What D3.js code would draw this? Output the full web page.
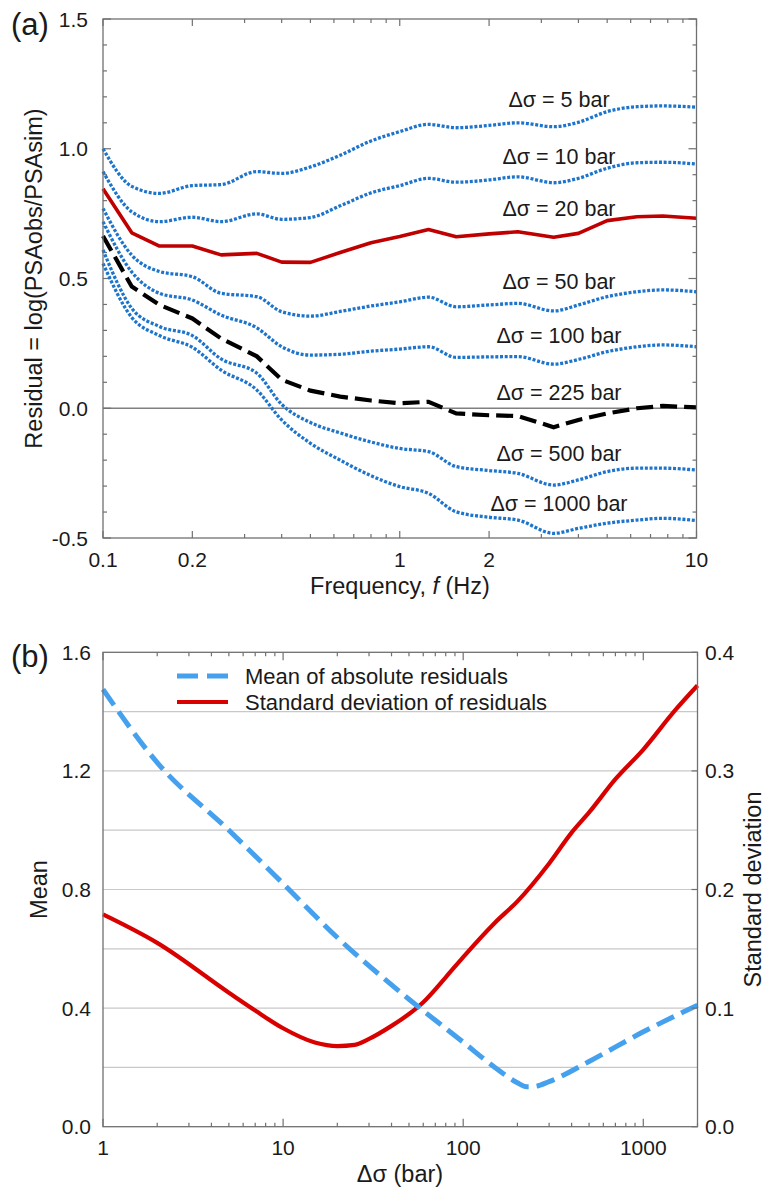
<!DOCTYPE html>
<html>
<head>
<meta charset="utf-8">
<script src="https://cdn.jsdelivr.net/npm/d3@7"></script>
<style>
  html, body { margin: 0; padding: 0; background: #fff; }
  svg { display: block; }
  text { font-family: "Liberation Sans", Arial, sans-serif; fill: #1a1a1a; }
</style>
</head>
<body>
<svg id="chart" width="768" height="1189"></svg>
<script>
// ---------------- Panel (a) data ----------------
const freqHz = [0.1, 0.125, 0.155, 0.2, 0.25, 0.33, 0.4, 0.5, 0.63, 0.8, 1.0, 1.25, 1.55, 2.0, 2.5, 3.3, 4.0, 5.0, 6.3, 7.7, 10];
const res5    = [1.0, 0.855, 0.828, 0.858, 0.862, 0.912, 0.905, 0.93, 0.975, 1.03, 1.066, 1.094, 1.081, 1.09, 1.1, 1.085, 1.102, 1.143, 1.162, 1.165, 1.16];
const res10   = [0.912, 0.757, 0.719, 0.736, 0.719, 0.749, 0.728, 0.735, 0.78, 0.83, 0.858, 0.886, 0.871, 0.88, 0.892, 0.869, 0.886, 0.925, 0.946, 0.948, 0.941];
const res20   = [0.846, 0.676, 0.625, 0.625, 0.591, 0.597, 0.563, 0.562, 0.60, 0.638, 0.662, 0.689, 0.661, 0.672, 0.68, 0.659, 0.674, 0.723, 0.738, 0.741, 0.732];
const res50   = [0.770, 0.59, 0.527, 0.507, 0.443, 0.43, 0.372, 0.355, 0.373, 0.394, 0.41, 0.428, 0.391, 0.398, 0.404, 0.375, 0.398, 0.430, 0.449, 0.456, 0.449];
const res100  = [0.719, 0.525, 0.443, 0.417, 0.359, 0.31, 0.237, 0.205, 0.208, 0.22, 0.228, 0.237, 0.196, 0.198, 0.199, 0.170, 0.188, 0.218, 0.237, 0.244, 0.237];
const res225  = [0.664, 0.469, 0.398, 0.346, 0.269, 0.20, 0.11, 0.068, 0.045, 0.03, 0.019, 0.025, -0.02, -0.027, -0.03, -0.073, -0.045, -0.02, 0.0, 0.009, 0.003];
const res500  = [0.610, 0.385, 0.315, 0.28, 0.19, 0.135, 0.015, -0.055, -0.095, -0.13, -0.155, -0.167, -0.225, -0.24, -0.251, -0.296, -0.276, -0.244, -0.231, -0.231, -0.238];
const res1000 = [0.558, 0.35, 0.28, 0.235, 0.147, 0.07, -0.045, -0.135, -0.2, -0.26, -0.302, -0.328, -0.399, -0.42, -0.431, -0.482, -0.463, -0.443, -0.431, -0.424, -0.433];
const seriesNames = ["Δσ = 5 bar", "Δσ = 10 bar", "Δσ = 20 bar", "Δσ = 50 bar", "Δσ = 100 bar", "Δσ = 225 bar", "Δσ = 500 bar", "Δσ = 1000 bar"];
const seriesLabelY = [1.16, 0.94, 0.74, 0.46, 0.25, 0.03, -0.205, -0.395];
const freqTickMajor = [0.1, 0.2, 1, 2, 10];
const freqTickLabels = ["0.1", "0.2", "1", "2", "10"];
const freqTickMinor = [0.3, 0.4, 0.5, 0.6, 0.7, 0.8, 0.9, 3, 4, 5, 6, 7, 8, 9];
const resTickMajor = [-0.5, 0, 0.5, 1.0, 1.5];
const resTickLabels = ["-0.5", "0.0", "0.5", "1.0", "1.5"];
const resTickMinor = [-0.4, -0.3, -0.2, -0.1, 0.1, 0.2, 0.3, 0.4, 0.6, 0.7, 0.8, 0.9, 1.1, 1.2, 1.3, 1.4];

// ---------------- Panel (b) data ----------------
const meanDs   = [1, 2, 5, 10, 20, 50, 100, 150, 200, 225, 250, 300, 500, 1000, 2000];
const meanAbs  = [1.475, 1.228, 1.0, 0.82, 0.638, 0.43, 0.285, 0.2, 0.148, 0.135, 0.136, 0.152, 0.22, 0.32, 0.41];
const stdDs    = [1, 2, 5, 7, 10, 15, 20, 25, 30, 40, 50, 60, 80, 100, 150, 200, 300, 400, 500, 700, 1000, 1500, 2000];
const stdRes   = [0.179, 0.155, 0.113, 0.098, 0.083, 0.071, 0.068, 0.069, 0.074, 0.085, 0.095, 0.105, 0.126, 0.143, 0.172, 0.19, 0.222, 0.248, 0.265, 0.293, 0.318, 0.351, 0.372];
const dsTickMajor = [1, 10, 100, 1000];
const dsTickLabels = ["1", "10", "100", "1000"];
const dsTickMinor = [2,3,4,5,6,7,8,9,20,30,40,50,60,70,80,90,200,300,400,500,600,700,800,900,2000];
const meanTicks = [0, 0.4, 0.8, 1.2, 1.6];
const meanTickLabels = ["0.0", "0.4", "0.8", "1.2", "1.6"];
const meanGrid = [0.2, 0.4, 0.6, 0.8, 1.0, 1.2, 1.4];
const stdTicks = [0, 0.1, 0.2, 0.3, 0.4];
const stdTickLabels = ["0.0", "0.1", "0.2", "0.3", "0.4"];
const legendLabels = ["Mean of absolute residuals", "Standard deviation of residuals"];

// ---------------- Drawing ----------------
const svg = d3.select("#chart");
const frameColor = "#707070";
const blueDot = "#1c74cc";

// ===== Panel (a) =====
const xA = d3.scaleLog().domain([0.1, 10]).range([103, 696.5]);
const yA = d3.scaleLinear().domain([-0.5, 1.5]).range([538, 19]);
const gA = svg.append("g");

gA.append("line").attr("x1", xA(0.1)).attr("x2", xA(10)).attr("y1", yA(0)).attr("y2", yA(0))
  .attr("stroke", "#808080").attr("stroke-width", 1.3);

function ticksX(g, x, y0, y1, vals, len) {
  g.selectAll(null).data(vals).enter().append("line")
    .attr("x1", d => x(d)).attr("x2", d => x(d)).attr("y1", y0).attr("y2", y0 - len)
    .attr("stroke", frameColor).attr("stroke-width", 1.2);
  g.selectAll(null).data(vals).enter().append("line")
    .attr("x1", d => x(d)).attr("x2", d => x(d)).attr("y1", y1).attr("y2", y1 + len)
    .attr("stroke", frameColor).attr("stroke-width", 1.2);
}
function ticksY(g, y, x0, x1, vals, len) {
  g.selectAll(null).data(vals).enter().append("line")
    .attr("y1", d => y(d)).attr("y2", d => y(d)).attr("x1", x0).attr("x2", x0 + len)
    .attr("stroke", frameColor).attr("stroke-width", 1.2);
  g.selectAll(null).data(vals).enter().append("line")
    .attr("y1", d => y(d)).attr("y2", d => y(d)).attr("x1", x1).attr("x2", x1 - len)
    .attr("stroke", frameColor).attr("stroke-width", 1.2);
}
ticksX(gA, xA, yA(-0.5), yA(1.5), freqTickMajor, 7);
ticksX(gA, xA, yA(-0.5), yA(1.5), freqTickMinor, 4);
ticksY(gA, yA, xA(0.1), xA(10), resTickMajor, 8);
ticksY(gA, yA, xA(0.1), xA(10), resTickMinor, 4);

const lineA = d3.line().x((d, i) => xA(freqHz[i])).y(d => yA(d));
const dotted = [res5, res10, res50, res100, res500, res1000];
dotted.forEach(s => {
  gA.append("path").datum(s).attr("d", lineA.curve(d3.curveMonotoneX))
    .attr("fill", "none").attr("stroke", blueDot).attr("stroke-width", 3.3)
    .attr("stroke-dasharray", "3,1.7");
});
gA.append("path").datum(res20).attr("d", lineA.curve(d3.curveLinear))
  .attr("fill", "none").attr("stroke", "#c00000").attr("stroke-width", 3.6).attr("stroke-linejoin", "round");
gA.append("path").datum(res225).attr("d", lineA.curve(d3.curveLinear))
  .attr("fill", "none").attr("stroke", "#000").attr("stroke-width", 4.2)
  .attr("stroke-dasharray", "17,7");

gA.append("rect").attr("x", xA(0.1)).attr("y", yA(1.5))
  .attr("width", xA(10) - xA(0.1)).attr("height", yA(-0.5) - yA(1.5))
  .attr("fill", "none").attr("stroke", frameColor).attr("stroke-width", 1.3);

gA.selectAll(null).data(seriesNames).enter().append("text")
  .attr("x", 559).attr("y", (d, i) => yA(seriesLabelY[i]))
  .attr("text-anchor", "middle").attr("font-size", 21.5).text(d => d);

gA.selectAll(null).data(resTickMajor).enter().append("text")
  .attr("x", 88).attr("y", d => yA(d)).attr("dy", "0.36em")
  .attr("text-anchor", "end").attr("font-size", 21).text((d, i) => resTickLabels[i]);
gA.selectAll(null).data(freqTickMajor).enter().append("text")
  .attr("x", d => xA(d)).attr("y", 567)
  .attr("text-anchor", "middle").attr("font-size", 21).text((d, i) => freqTickLabels[i]);

const tA = gA.append("text").attr("x", 400).attr("y", 594).attr("text-anchor", "middle").attr("font-size", 23.5);
tA.append("tspan").text("Frequency, ");
tA.append("tspan").attr("font-style", "italic").text("f");
tA.append("tspan").text(" (Hz)");
gA.append("text").attr("transform", `translate(42,${(yA(1.5) + yA(-0.5)) / 2}) rotate(-90)`)
  .attr("text-anchor", "middle").attr("font-size", 23.5).text("Residual = log(PSAobs/PSAsim)");
gA.append("text").attr("x", 11).attr("y", 35).attr("font-size", 31).text("(a)");

// ===== Panel (b) =====
const xB = d3.scaleLog().domain([1, 2000]).range([103, 697.5]);
const yB = d3.scaleLinear().domain([0, 1.6]).range([1126.7, 652.3]);
const yB2 = d3.scaleLinear().domain([0, 0.4]).range([1126.7, 652.3]);
const gB = svg.append("g");

gB.selectAll(null).data(meanGrid).enter().append("line")
  .attr("x1", xB(1)).attr("x2", xB(2000)).attr("y1", d => yB(d)).attr("y2", d => yB(d))
  .attr("stroke", "#c8c8c8").attr("stroke-width", 1.2);

ticksX(gB, xB, yB(0), yB(1.6), dsTickMajor, 8);
ticksX(gB, xB, yB(0), yB(1.6), dsTickMinor, 4);

gB.append("path").datum(stdRes)
  .attr("d", d3.line().x((d, i) => xB(stdDs[i])).y(d => yB2(d)).curve(d3.curveMonotoneX))
  .attr("fill", "none").attr("stroke", "#d90000").attr("stroke-width", 4.2);
gB.append("path").datum(meanAbs)
  .attr("d", d3.line().x((d, i) => xB(meanDs[i])).y(d => yB(d)).curve(d3.curveMonotoneX))
  .attr("fill", "none").attr("stroke", "#45a0ee").attr("stroke-width", 5)
  .attr("stroke-dasharray", "19,8");

gB.append("rect").attr("x", xB(1)).attr("y", yB(1.6))
  .attr("width", xB(2000) - xB(1)).attr("height", yB(0) - yB(1.6))
  .attr("fill", "none").attr("stroke", frameColor).attr("stroke-width", 1.3);

gB.selectAll(null).data(stdTicks).enter().append("line")
  .attr("x1", xB(2000) - 6).attr("x2", xB(2000)).attr("y1", d => yB2(d)).attr("y2", d => yB2(d))
  .attr("stroke", frameColor).attr("stroke-width", 1.2);

gB.selectAll(null).data(meanTicks).enter().append("text")
  .attr("x", 91).attr("y", d => yB(d)).attr("dy", "0.36em")
  .attr("text-anchor", "end").attr("font-size", 21).text((d, i) => meanTickLabels[i]);
gB.selectAll(null).data(stdTicks).enter().append("text")
  .attr("x", 705).attr("y", d => yB2(d)).attr("dy", "0.36em")
  .attr("text-anchor", "start").attr("font-size", 21).text((d, i) => stdTickLabels[i]);
gB.selectAll(null).data(dsTickMajor).enter().append("text")
  .attr("x", d => xB(d)).attr("y", 1155)
  .attr("text-anchor", "middle").attr("font-size", 21).text((d, i) => dsTickLabels[i]);

const legY = [676, 702];
gB.append("line").attr("x1", 177).attr("x2", 228).attr("y1", legY[0]).attr("y2", legY[0])
  .attr("stroke", "#45a0ee").attr("stroke-width", 5).attr("stroke-dasharray", "21,9");
gB.append("line").attr("x1", 177).attr("x2", 228).attr("y1", legY[1]).attr("y2", legY[1])
  .attr("stroke", "#d90000").attr("stroke-width", 4.2);
gB.selectAll(null).data(legendLabels).enter().append("text")
  .attr("x", 245).attr("y", (d, i) => legY[i]).attr("dy", "0.36em")
  .attr("font-size", 22).text(d => d);

gB.append("text").attr("x", 400).attr("y", 1182).attr("text-anchor", "middle").attr("font-size", 23.5).text("Δσ (bar)");
gB.append("text").attr("transform", `translate(47,${(yB(0) + yB(1.6)) / 2}) rotate(-90)`)
  .attr("text-anchor", "middle").attr("font-size", 23.5).text("Mean");
gB.append("text").attr("transform", `translate(761,${(yB(0) + yB(1.6)) / 2}) rotate(-90)`)
  .attr("text-anchor", "middle").attr("font-size", 23.5).text("Standard deviation");
gB.append("text").attr("x", 11).attr("y", 667).attr("font-size", 31).text("(b)");
</script>
</body>
</html>
